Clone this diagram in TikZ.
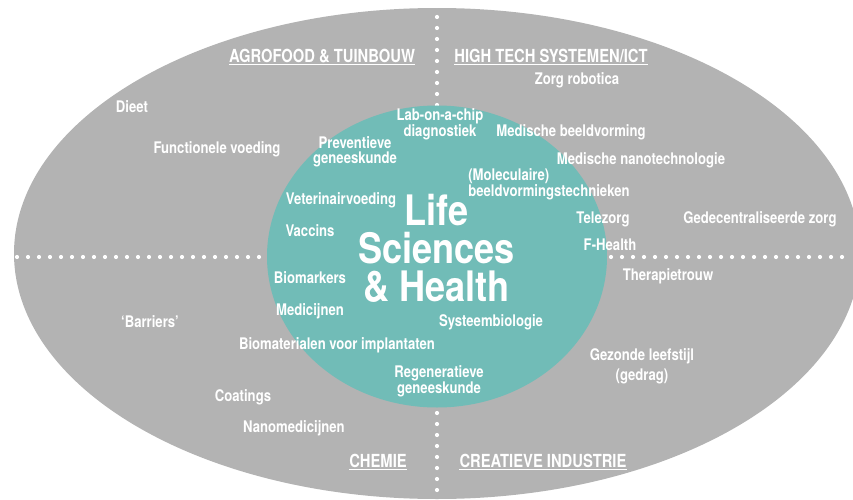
\documentclass[tikz,border=0pt]{standalone}
\usepackage{fontspec}
\setmainfont{TeX Gyre Heros}[FakeStretch=0.82]
\newfontfamily\bigfont{TeX Gyre Heros}[FakeStretch=0.86]
\definecolor{sector_gray}{HTML}{B3B3B3}
\definecolor{core_teal}{HTML}{71BCB7}

\begin{document}
\begin{tikzpicture}[x=1pt, y=-1pt]
    \tikzstyle{label_style} = [text=white, inner sep=0pt, align=center, font=\fontsize{16}{15}\selectfont\bfseries]
    \tikzstyle{head_style} = [text=white, inner sep=0pt, anchor=base, font=\fontsize{18}{18}\selectfont\bfseries]
    \tikzstyle{dots_style} = [draw=white, line width=4.2pt, line cap=round, dash pattern=on 0pt off 11pt]
    \tikzstyle{under_style} = [draw=white, line width=1.4pt]
    \useasboundingbox (0,0) rectangle (853,500);

    % sectors and core
    \fill[sector_gray] (437,253.5) ellipse [x radius=423pt, y radius=245.5pt];
    \coordinate (west_end) at (17,257);
    \coordinate (east_end) at (853,257);
    \coordinate (north_end) at (437,6);
    \coordinate (south_end) at (437,500);
    \draw[dots_style] (west_end) -- (east_end);
    \draw[dots_style] (north_end) -- (south_end);
    \fill[core_teal] (437,256.5) ellipse [x radius=170pt, y radius=151pt];

    % sector headings
    \node[head_style] (agro) at (322,62.5) {AGROFOOD \& TUINBOUW};
    \node[head_style] (hightech) at (551,62.5) {HIGH TECH SYSTEMEN/ICT};
    \node[head_style] (chemie) at (378,467.5) {CHEMIE};
    \node[head_style] (creatief) at (543,467.5) {CREATIEVE INDUSTRIE};
    \foreach \n in {agro,hightech,chemie,creatief}
        \draw[under_style] ([yshift=-2pt]\n.base west) -- ([yshift=-2pt]\n.base east);

    % centre
    \node[text=white, inner sep=0pt, align=center, font=\bigfont\fontsize{42}{38}\selectfont\bfseries] (lsh) at (436.5,248.5) {Life\\Sciences\\\& Health};

    % topics
    \node[label_style, anchor=base] (dieet) at (132,113) {Dieet};
    \node[label_style, anchor=base] (functioneel) at (217,153) {Functionele voeding};
    \node[label_style] (preventie) at (355,152) {Preventieve\\geneeskunde};
    \node[label_style] (labchip) at (440,124.5) {Lab-on-a-chip\\diagnostiek};
    \node[label_style, anchor=base] (zorgrobot) at (577,85) {Zorg robotica};
    \node[label_style, anchor=base] (beeldvorming) at (571,136) {Medische beeldvorming};
    \node[label_style, anchor=base] (nanotech) at (641,164) {Medische nanotechnologie};
    \node[label_style, align=left] (moleculair) at (549,184) {(Moleculaire)\\beeldvormingstechnieken};
    \node[label_style, anchor=base] (telezorg) at (603,223) {Telezorg};
    \node[label_style, anchor=base] (gedecentr) at (760,223) {Gedecentraliseerde zorg};
    \node[label_style, anchor=base] (ehealth) at (610,250) {F-Health};
    \node[label_style, anchor=base] (veterinair) at (341,204) {Veterinairvoeding};
    \node[label_style, anchor=base] (vaccins) at (310,236.5) {Vaccins};
    \node[label_style, anchor=base] (biomarkers) at (310,283) {Biomarkers};
    \node[label_style, anchor=base] (medicijnen) at (310,315) {Medicijnen};
    \node[label_style, anchor=base] (systeembio) at (491,326) {Systeembiologie};
    \node[label_style, anchor=base] (biomateriaal) at (337,349) {Biomaterialen voor implantaten};
    \node[label_style] (regeneratief) at (439,381) {Regeneratieve\\geneeskunde};
    \node[label_style, anchor=base] (barriers) at (150,327) {‘Barriers’};
    \node[label_style, anchor=base] (coatings) at (243,401) {Coatings};
    \node[label_style, anchor=base] (nanomed) at (294,432.5) {Nanomedicijnen};
    \node[label_style, anchor=base] (therapie) at (668,280) {Therapietrouw};
    \node[label_style] (leefstijl) at (642,366) {Gezonde leefstijl\\[4pt](gedrag)};
\end{tikzpicture}
\end{document}
